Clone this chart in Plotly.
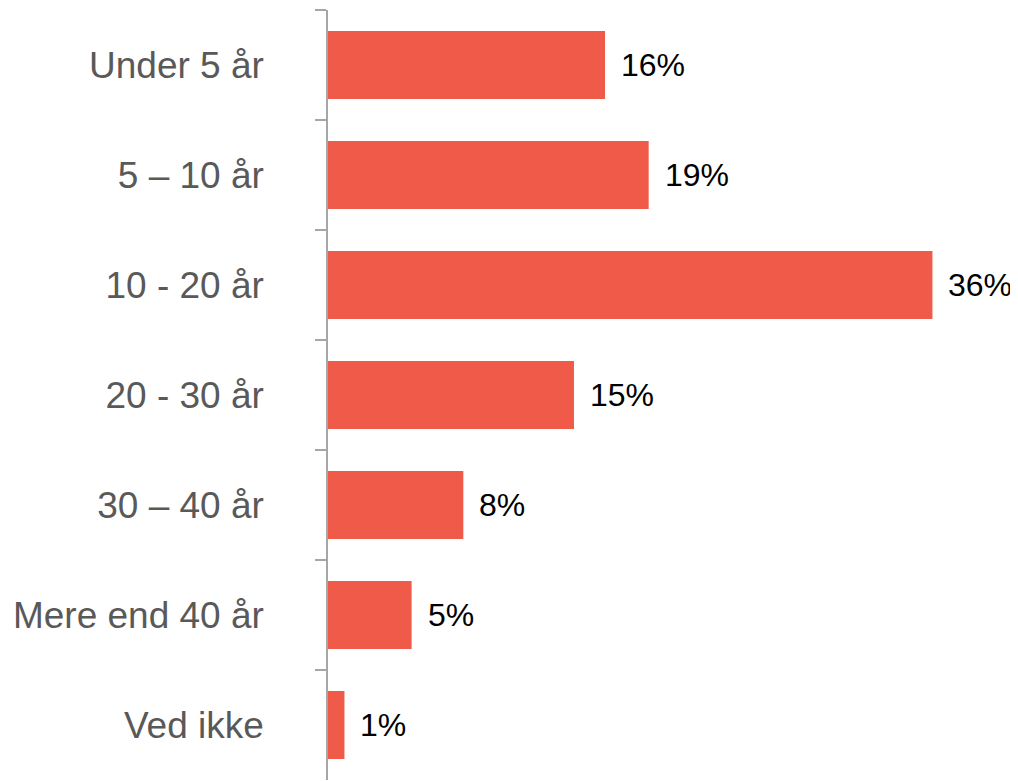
import plotly.graph_objects as go

categories = ["Under 5 år", "5 – 10 år", "10 - 20 år", "20 - 30 år", "30 – 40 år", "Mere end 40 år", "Ved ikke"]
values = [16.5, 19.1, 36.0, 14.65, 8.06, 4.98, 0.98]
value_labels = ["16%", "19%", "36%", "15%", "8%", "5%", "1%"]

BAR_COLOR = "#EF5B48"
AXIS_COLOR = "#A6A6A6"

fig = go.Figure(
    go.Bar(
        x=values,
        y=categories,
        orientation="h",
        marker=dict(color=BAR_COLOR, line=dict(width=0)),
        hoverinfo="skip",
    )
)

for cat, val, lab in zip(categories, values, value_labels):
    fig.add_annotation(
        x=val, y=cat, text=lab, showarrow=False,
        xanchor="left", yanchor="middle", xshift=14,
        font=dict(family="Liberation Sans, Arial, sans-serif", size=32, color="#000000"),
    )

fig.update_layout(
    width=1010, height=773,
    margin=dict(l=320, r=10, t=2, b=1),
    paper_bgcolor="white", plot_bgcolor="white",
    bargap=0.38,
    showlegend=False,
    font=dict(family="Liberation Sans, Arial, sans-serif"),
)
fig.update_xaxes(range=[0, 40.5], visible=False, showgrid=False, zeroline=False)
fig.update_yaxes(
    autorange="reversed",
    type="category",
    showgrid=False, zeroline=False,
    showline=True, linecolor=AXIS_COLOR, linewidth=1.5,
    ticks="outside", tickson="boundaries", ticklen=11, tickcolor=AXIS_COLOR, tickwidth=1.5,
    ticklabelstandoff=55,
    tickfont=dict(family="Liberation Sans, Arial, sans-serif", size=37, color="#595959"),
)

fig.write_html("out.html")
